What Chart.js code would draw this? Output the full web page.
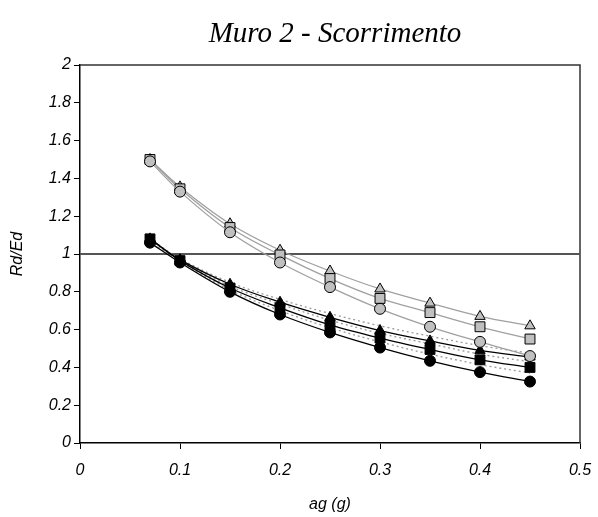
<!DOCTYPE html>
<html>
<head>
<meta charset="utf-8">
<script src="https://cdn.jsdelivr.net/npm/chart.js@4"></script>
<style>
html,body{margin:0;padding:0;background:#fff;}
#wrap{width:598px;height:517px;}
</style>
</head>
<body>
<div id="wrap"><canvas id="c" width="598" height="517"></canvas></div>
<script>
const agValues = [0.07, 0.1, 0.15, 0.2, 0.25, 0.3, 0.35, 0.4, 0.45];
const grayTriangle = [1.50, 1.355, 1.16, 1.02, 0.91, 0.815, 0.74, 0.67, 0.62];
const graySquare   = [1.50, 1.345, 1.14, 0.995, 0.87, 0.765, 0.69, 0.615, 0.55];
const grayCircle   = [1.49, 1.33, 1.115, 0.955, 0.825, 0.71, 0.615, 0.535, 0.46];
const blackTriangle = [1.08, 0.97, 0.84, 0.745, 0.665, 0.595, 0.54, 0.49, 0.455];
const blackSquare   = [1.08, 0.965, 0.82, 0.715, 0.625, 0.555, 0.495, 0.44, 0.40];
const blackCircle   = [1.06, 0.955, 0.80, 0.68, 0.585, 0.505, 0.435, 0.375, 0.325];
const dottedA = [1.08, 0.975, 0.85, 0.76, 0.685, 0.62, 0.565, 0.515, 0.475];
const dottedB = [1.08, 0.97, 0.83, 0.735, 0.65, 0.58, 0.525, 0.47, 0.43];
const dottedC = [1.07, 0.96, 0.81, 0.70, 0.61, 0.535, 0.47, 0.415, 0.37];
const refX = [0, 0.5];
const refY = [1, 1];
const xTicks = [0, 0.1, 0.2, 0.3, 0.4, 0.5];
const yTicks = [0, 0.2, 0.4, 0.6, 0.8, 1, 1.2, 1.4, 1.6, 1.8, 2];
const chartTitle = 'Muro 2 - Scorrimento';

const pts = (ys) => agValues.map((x, i) => ({x, y: ys[i]}));
const GRAY_FILL = '#c0c0c0';
const GRAY_LINE = '#a0a0a0';

function series(data, style, fill, line, radius, dash, showPts) {
  return {
    data: pts(data),
    borderColor: line,
    borderWidth: 1.3,
    borderDash: dash || [],
    tension: 0.35,
    pointStyle: style,
    pointRadius: showPts === false ? 0 : radius,
    pointBackgroundColor: fill,
    pointBorderColor: '#000',
    pointBorderWidth: 1,
    showLine: true,
    fill: false
  };
}

const datasets = [
  {data: refX.map((x, i) => ({x, y: refY[i]})), borderColor: '#555', borderWidth: 2, pointRadius: 0, showLine: true, tension: 0},
  series(dottedA, 'circle', GRAY_FILL, '#999', 0, [2, 3], false),
  series(dottedB, 'circle', GRAY_FILL, '#999', 0, [2, 3], false),
  series(dottedC, 'circle', GRAY_FILL, '#999', 0, [2, 3], false),
  series(blackTriangle, 'triangle', '#000', '#000', 6),
  series(blackSquare, 'rect', '#000', '#000', 7),
  series(blackCircle, 'circle', '#000', '#000', 5.5),
  series(grayTriangle, 'triangle', GRAY_FILL, GRAY_LINE, 6),
  series(graySquare, 'rect', GRAY_FILL, GRAY_LINE, 7),
  series(grayCircle, 'circle', GRAY_FILL, GRAY_LINE, 5.5)
];
datasets.forEach((d, i) => { d.order = datasets.length - i; });

const frame = {
  id: 'frame',
  beforeDatasetsDraw(chart) {
    const {ctx, chartArea: a} = chart;
    ctx.save();
    ctx.strokeStyle = '#333';
    ctx.lineWidth = 1.5;
    ctx.beginPath();
    ctx.moveTo(a.left, a.top);
    ctx.lineTo(a.right, a.top);
    ctx.lineTo(a.right, a.bottom);
    ctx.stroke();
    ctx.restore();
  },
  afterDraw(chart) {
    const {ctx, chartArea: a} = chart;
    ctx.save();
    ctx.fillStyle = '#000';
    ctx.font = 'italic 29px "Liberation Serif", "Times New Roman", serif';
    ctx.textAlign = 'center';
    ctx.textBaseline = 'middle';
    ctx.fillText(chartTitle, (a.left + a.right) / 2 + 5, 34);
    ctx.restore();
  }
};

const tickFont = {family: '"Liberation Sans", Arial, sans-serif', size: 16, style: 'italic'};

new Chart(document.getElementById('c'), {
  type: 'scatter',
  data: {datasets},
  plugins: [frame],
  options: {
    responsive: false,
    animation: false,
    layout: {padding: {left: 0, right: 18, top: 65, bottom: 0}},
    plugins: {
      legend: {display: false},
      tooltip: {enabled: false},
      title: {display: false}
    },
    scales: {
      x: {
        type: 'linear',
        min: 0, max: 0.5,
        afterBuildTicks(s) { s.ticks = xTicks.map(v => ({value: v})); },
        afterFit(s) { s.height = 74; s.paddingRight = 0; s.paddingLeft = 0; },
        ticks: {color: '#000', font: tickFont, padding: 12, maxRotation: 0,
          callback: (v) => String(Math.round(v * 10) / 10)},
        grid: {display: true, drawOnChartArea: false, drawTicks: true, tickLength: 6, color: '#000'},
        border: {display: true, color: '#000', width: 1.5},
        title: {display: true, text: 'ag (g)', color: '#000', font: tickFont, padding: {top: 0, bottom: 3}}
      },
      y: {
        type: 'linear',
        min: 0, max: 2,
        afterBuildTicks(s) { s.ticks = yTicks.map(v => ({value: v})); },
        afterFit(s) { s.width = 80; s.paddingTop = 0; s.paddingBottom = 0; },
        ticks: {color: '#000', font: tickFont, padding: 3,
          callback: (v) => String(Math.round(v * 10) / 10)},
        grid: {display: true, drawOnChartArea: false, drawTicks: true, tickLength: 6, color: '#000'},
        border: {display: true, color: '#000', width: 1.5},
        title: {display: true, text: 'Rd/Ed', color: '#000', font: tickFont, padding: {top: 8, bottom: 0}}
      }
    }
  }
});
</script>
</body>
</html>
